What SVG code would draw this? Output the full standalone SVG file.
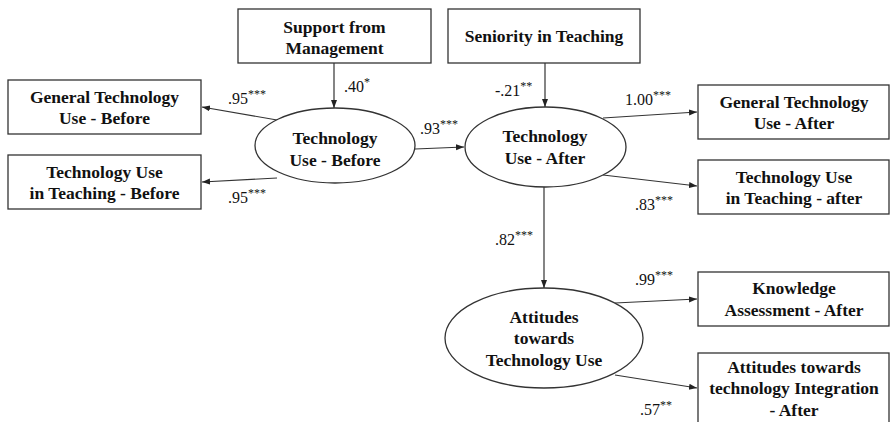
<svg xmlns="http://www.w3.org/2000/svg" width="890" height="422" viewBox="0 0 890 422">
<defs>
<marker id="ah" markerUnits="userSpaceOnUse" markerWidth="9" markerHeight="7" refX="8" refY="3" orient="auto">
<path d="M0,0 L8,3 L0,6 z" fill="#222"/>
</marker>
<style>
.box{fill:#fff;stroke:#333;stroke-width:1.3}
.t{font-family:"Liberation Serif","Times New Roman",Tinos,serif;font-weight:bold;font-size:17.5px;fill:#111;text-anchor:middle}
.l{font-family:"Liberation Serif","Times New Roman",Tinos,serif;font-size:16px;fill:#111}
.s{font-size:12px}
.c{stroke:#333;stroke-width:1.2;fill:none;marker-end:url(#ah)}
</style>
</defs>
<rect width="890" height="422" fill="#fff"/>
<g id="connectors">
<line class="c" x1="334" y1="63" x2="334" y2="108"/>
<line class="c" x1="277" y1="120" x2="202" y2="107"/>
<line class="c" x1="277" y1="178" x2="202" y2="182"/>
<line class="c" x1="415" y1="149" x2="464" y2="147"/>
<line class="c" x1="545" y1="63" x2="545" y2="107"/>
<line class="c" x1="603" y1="118" x2="697" y2="112"/>
<line class="c" x1="603" y1="175" x2="697" y2="186"/>
<line class="c" x1="544" y1="187" x2="544" y2="288"/>
<line class="c" x1="615" y1="303" x2="697" y2="299"/>
<line class="c" x1="615" y1="375" x2="697" y2="388"/>
</g>
<g id="labels">
<text class="l" x="228" y="104">.95<tspan class="s" dy="-6">***</tspan></text>
<text class="l" x="228" y="203">.95<tspan class="s" dy="-6">***</tspan></text>
<text class="l" x="344" y="92">.40<tspan class="s" dy="-6">*</tspan></text>
<text class="l" x="420" y="134">.93<tspan class="s" dy="-6">***</tspan></text>
<text class="l" x="495" y="96">-.21<tspan class="s" dy="-6">**</tspan></text>
<text class="l" x="625" y="105">1.00<tspan class="s" dy="-6">***</tspan></text>
<text class="l" x="635" y="210">.83<tspan class="s" dy="-6">***</tspan></text>
<text class="l" x="495" y="245">.82<tspan class="s" dy="-6">***</tspan></text>
<text class="l" x="635" y="285">.99<tspan class="s" dy="-6">***</tspan></text>
<text class="l" x="640" y="415">.57<tspan class="s" dy="-6">**</tspan></text>
</g>
<g id="support">
<rect class="box" x="238" y="9" width="193" height="54"/>
<text class="t" x="334.5" y="33">Support from</text>
<text class="t" x="334.5" y="54">Management</text>
</g>
<g id="seniority">
<rect class="box" x="448" y="9" width="192" height="54"/>
<text class="t" x="544" y="42">Seniority in Teaching</text>
</g>
<g id="gen-before">
<rect class="box" x="8" y="80" width="193" height="54"/>
<text class="t" x="104.5" y="103">General Technology</text>
<text class="t" x="104.5" y="124">Use - Before</text>
</g>
<g id="teach-before">
<rect class="box" x="8" y="155" width="193" height="54"/>
<text class="t" x="104.5" y="178">Technology Use</text>
<text class="t" x="104.5" y="199">in Teaching - Before</text>
</g>
<g id="tech-before">
<ellipse class="box" cx="335" cy="145.5" rx="80" ry="37.5"/>
<text class="t" x="335" y="144">Technology</text>
<text class="t" x="335" y="166">Use - Before</text>
</g>
<g id="tech-after">
<ellipse class="box" cx="545.5" cy="147" rx="80.5" ry="40"/>
<text class="t" x="545" y="142">Technology</text>
<text class="t" x="545" y="164">Use - After</text>
</g>
<g id="gen-after">
<rect class="box" x="698" y="85" width="191" height="54"/>
<text class="t" x="794" y="108">General Technology</text>
<text class="t" x="794" y="129">Use - After</text>
</g>
<g id="teach-after">
<rect class="box" x="698" y="160" width="191" height="54"/>
<text class="t" x="794" y="183">Technology Use</text>
<text class="t" x="794" y="204">in Teaching - after</text>
</g>
<g id="attitudes">
<ellipse class="box" cx="544" cy="338" rx="99" ry="50"/>
<text class="t" x="544" y="323">Attitudes</text>
<text class="t" x="544" y="344">towards</text>
<text class="t" x="544" y="366">Technology Use</text>
</g>
<g id="knowledge">
<rect class="box" x="698" y="272" width="191" height="54"/>
<text class="t" x="794" y="294">Knowledge</text>
<text class="t" x="794" y="316">Assessment - After</text>
</g>
<g id="integration">
<rect class="box" x="698" y="353" width="191" height="80"/>
<text class="t" x="794" y="373">Attitudes towards</text>
<text class="t" x="794" y="394">technology Integration</text>
<text class="t" x="794" y="416">- After</text>
</g>
</svg>
